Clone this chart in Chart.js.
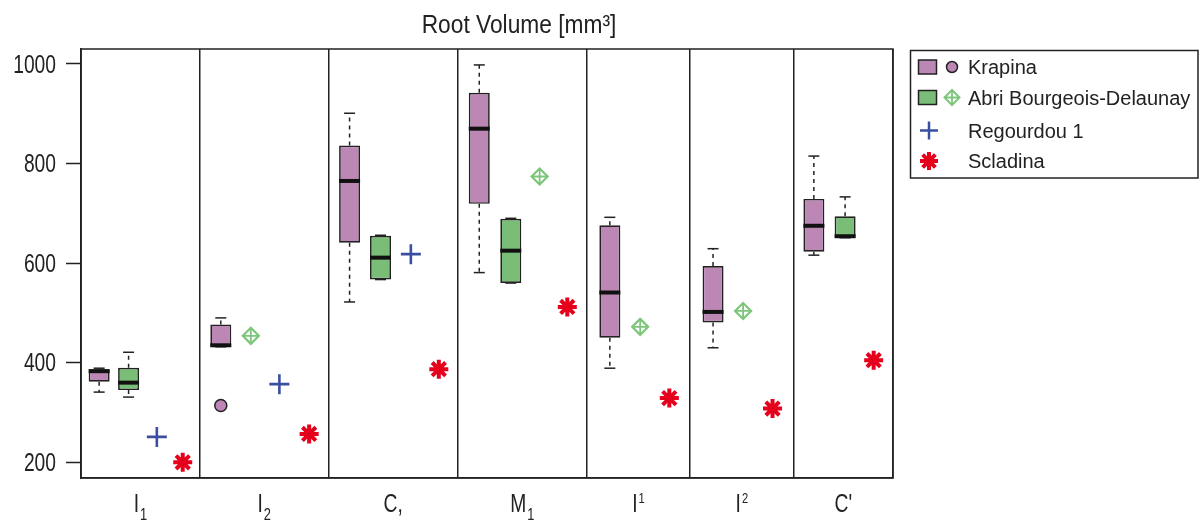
<!DOCTYPE html>
<html><head><meta charset="utf-8">
<script src="https://cdn.jsdelivr.net/npm/chart.js@4.4.1/dist/chart.umd.min.js"></script>
<style>html,body{margin:0;padding:0;background:#fff}canvas{display:block}</style>
</head><body>
<canvas id="c" width="1200" height="521"></canvas>
<script>
// ---------- data ----------
const categories = ['I\u2081', 'I\u2082', 'C,', 'M\u2081', 'I\u00B9', 'I\u00B2', "C'"];
const yTicks = [200, 400, 600, 800, 1000];
// panel boundaries on the x axis (slot units)
const panelEdges = [0, 4.00, 8.32, 12.67, 17.01, 20.48, 23.96, 27.30];

// Krapina (box plots)
const krapinaX   = [0.61, 4.70, 9.03, 13.39, 17.78, 21.25, 24.64];
const krapinaMin = [341, 432, 522, 581, 389, 430, 616];
const krapinaQ1  = [362, 432, 641, 719, 450, 481, 623];
const krapinaMed = [383, 435, 765, 870, 541, 502, 675];
const krapinaQ3  = [387, 477, 836, 942, 676, 594, 729];
const krapinaMax = [389, 490, 901, 998, 692, 629, 815];
const krapinaOutlier = [null, 314, null, null, null, null, null];

// Abri Bourgeois-Delaunay (box plots + single values)
const abdBoxX = [1.60, null, 10.07, 14.45, null, null, 25.69];
const abdMin  = [331, null, 567, 560, null, null, 651];
const abdQ1   = [345, null, 567, 560, null, null, 651];
const abdMed  = [360, null, 611, 625, null, null, 654];
const abdQ3   = [390, null, 655, 689, null, null, 694];
const abdMax  = [421, null, 656, 690, null, null, 733];
const abdPointX = [null, 5.71, null, 15.42, 18.80, 22.26, null];
const abdPoint  = [null, 454, null, 774, 472, 504, null];

// Regourdou 1
const regourdouX = [2.55, 6.67, 11.09, null, null, null, null];
const regourdou  = [251, 357, 618, null, null, null, null];

// Scladina
const scladinaX = [3.42, 7.67, 12.03, 16.35, 19.78, 23.25, 26.65];
const scladina  = [200, 257, 387, 512, 329, 308, 405];

// ---------- styles ----------
const PURPLE = '#BC86B5', GREEN = '#79BD77', DIAMOND = '#7DC57B', BLUE = '#3A4F9F', RED = '#E5001C', INK = '#222';
const FAMILY = '"Liberation Sans", Arial, Helvetica, sans-serif';

// ---------- build datasets ----------
function pts(xs, ys) {
  const out = [];
  xs.forEach((x, i) => { if (x != null && ys[i] != null) out.push({ x: x, y: ys[i] }); });
  return out;
}
function boxes(xs, q1, q3) {
  const out = [];
  xs.forEach((x, i) => { if (x != null && q1[i] != null) out.push({ x: x, y: [q1[i], q3[i]] }); });
  return out;
}
function whiskers(xs, mn, q1, q3, mx) {
  const out = [];
  xs.forEach((x, i) => {
    if (x == null || q1[i] == null) return;
    out.push({ x: x, y: q3[i] }, { x: x, y: mx[i] }, { x: x, y: null });
    out.push({ x: x, y: q1[i] }, { x: x, y: mn[i] }, { x: x, y: null });
  });
  return out;
}
function caps(xs, mn, mx) {
  return pts(xs, mn).concat(pts(xs, mx));
}

const boxCommon = { type: 'bar', borderColor: INK, borderWidth: 1.7, borderSkipped: false, grouped: false, maxBarThickness: 21, barPercentage: 0.95, order: 5 };
const whiskerCommon = { type: 'line', borderColor: INK, borderWidth: 1.5, borderDash: [4, 4], pointRadius: 0, fill: false, spanGaps: false, tension: 0, order: 7 };
const capCommon = { type: 'scatter', pointStyle: 'line', pointRadius: 5.5, pointBorderWidth: 1.5, borderColor: INK, pointBorderColor: INK, order: 6 };
const medCommon = { type: 'scatter', pointStyle: 'line', pointRadius: 10.5, pointBorderWidth: 4, borderColor: '#111', pointBorderColor: '#111', order: 2 };

const datasets = [
  Object.assign({ label: 'Krapina whiskers', data: whiskers(krapinaX, krapinaMin, krapinaQ1, krapinaQ3, krapinaMax) }, whiskerCommon),
  Object.assign({ label: 'ABD whiskers', data: whiskers(abdBoxX, abdMin, abdQ1, abdQ3, abdMax) }, whiskerCommon),
  Object.assign({ label: 'Krapina caps', data: caps(krapinaX, krapinaMin, krapinaMax) }, capCommon),
  Object.assign({ label: 'ABD caps', data: caps(abdBoxX, abdMin, abdMax) }, capCommon),
  Object.assign({ label: 'Krapina', data: boxes(krapinaX, krapinaQ1, krapinaQ3), backgroundColor: PURPLE }, boxCommon),
  Object.assign({ label: 'Abri Bourgeois-Delaunay', data: boxes(abdBoxX, abdQ1, abdQ3), backgroundColor: GREEN }, boxCommon),
  Object.assign({ label: 'Krapina median', data: pts(krapinaX, krapinaMed) }, medCommon),
  Object.assign({ label: 'ABD median', data: pts(abdBoxX, abdMed) }, medCommon),
  { type: 'scatter', label: 'Krapina outlier', data: pts(krapinaX, krapinaOutlier), pointStyle: 'circle', pointRadius: 6,
    pointBackgroundColor: PURPLE, backgroundColor: PURPLE, pointBorderColor: INK, borderColor: INK, pointBorderWidth: 1.5, order: 1 },
  { type: 'scatter', label: 'ABD single', data: pts(abdPointX, abdPoint), pointStyle: 'rectRot', pointRadius: 8,
    pointBackgroundColor: 'rgba(0,0,0,0)', backgroundColor: 'rgba(0,0,0,0)', pointBorderColor: DIAMOND, borderColor: DIAMOND, pointBorderWidth: 2.2, order: 1 },
  { type: 'scatter', label: 'ABD single cross', data: pts(abdPointX, abdPoint), pointStyle: 'cross', pointRadius: 8,
    pointBorderColor: DIAMOND, borderColor: DIAMOND, pointBorderWidth: 1.8, order: 1 },
  { type: 'scatter', label: 'Regourdou 1', data: pts(regourdouX, regourdou), pointStyle: 'cross', pointRadius: 10,
    pointBorderColor: BLUE, borderColor: BLUE, pointBorderWidth: 2.6, order: 1 },
  { type: 'scatter', label: 'Scladina', data: pts(scladinaX, scladina), pointStyle: 'star', pointRadius: 9.5,
    pointBorderColor: RED, borderColor: RED, pointBorderWidth: 4, order: 1 }
];

// ---------- axis helpers ----------
const panelCenters = panelEdges.slice(0, -1).map((e, i) => (e + panelEdges[i + 1]) / 2);
const xTickValues = panelEdges.concat(panelCenters).sort((a, b) => a - b);
const edgeSet = new Set(panelEdges);

// narrow-looking text: draw with a horizontal squeeze
function drawText(ctx, text, x, y, size, sx, align) {
  ctx.save();
  ctx.font = size + 'px ' + FAMILY;
  const w = ctx.measureText(text).width * sx;
  const left = align === 'right' ? x - w : (align === 'center' ? x - w / 2 : x);
  ctx.translate(left, y);
  ctx.scale(sx, 1);
  ctx.textAlign = 'left';
  ctx.textBaseline = 'alphabetic';
  ctx.fillText(text, 0, 0);
  ctx.restore();
  return w;
}
function measure(ctx, text, size, sx) {
  ctx.save(); ctx.font = size + 'px ' + FAMILY;
  const w = ctx.measureText(text).width * sx; ctx.restore(); return w;
}
const SUBS = { '\u2080': '0', '\u2081': '1', '\u2082': '2', '\u2083': '3' };
const SUPS = { '\u00B9': '1', '\u00B2': '2', '\u00B3': '3' };

// ---------- plugins ----------
const framePlugin = {
  id: 'frame',
  afterDatasetsDraw(chart) {
    const { ctx, chartArea: a } = chart;
    ctx.save();
    ctx.strokeStyle = INK; ctx.lineWidth = 1.5;
    ctx.strokeRect(a.left, a.top, a.right - a.left, a.bottom - a.top);
    ctx.restore();
  }
};

const axisLabelPlugin = {
  id: 'axisLabels',
  afterDraw(chart) {
    const ctx = chart.ctx;
    const xs = chart.scales.x, ys = chart.scales.y;
    ctx.save();
    ctx.fillStyle = INK;
    yTicks.forEach(v => {
      drawText(ctx, String(v), 56, ys.getPixelForValue(v) + 8.6, 25, 0.77, 'right');
    });
    categories.forEach((lab, i) => {
      const cx = xs.getPixelForValue(panelCenters[i]);
      const last = lab.slice(-1);
      let base = lab, small = '', kind = '';
      if (SUBS[last]) { base = lab.slice(0, -1); small = SUBS[last]; kind = 'sub'; }
      else if (SUPS[last]) { base = lab.slice(0, -1); small = SUPS[last]; kind = 'sup'; }
      const bw = measure(ctx, base, 25, 0.77);
      const smallSize = kind === 'sub' ? 16 : 14;
      const sw = small ? measure(ctx, small, smallSize, 0.8) + 1 : 0;
      const left = cx - (bw + sw) / 2;
      drawText(ctx, base, left, 512, 25, 0.77, 'left');
      if (kind === 'sub') drawText(ctx, small, left + bw + 1, 519.5, smallSize, 0.8, 'left');
      if (kind === 'sup') drawText(ctx, small, left + bw + 1, 503, smallSize, 0.8, 'left');
    });
    ctx.restore();
  }
};

const titlePlugin = {
  id: 'customTitle',
  afterDraw(chart) {
    const ctx = chart.ctx;
    ctx.save();
    ctx.fillStyle = INK;
    drawText(ctx, 'Root Volume [mm\u00B3]', 519, 33, 25, 0.91, 'center');
    ctx.restore();
  }
};

const legendItems = [
  { text: 'Krapina', kind: 'box+circle', fill: PURPLE },
  { text: 'Abri Bourgeois-Delaunay', kind: 'box+diamond', fill: GREEN },
  { text: 'Regourdou 1', kind: 'plus' },
  { text: 'Scladina', kind: 'star' }
];
const legendPlugin = {
  id: 'customLegend',
  afterDraw(chart) {
    const ctx = chart.ctx;
    const L = 910.5, T = 50.5, W = 287.5, H = 127.5;
    const rows = [67, 97.5, 130.5, 161];
    ctx.save();
    ctx.strokeStyle = INK; ctx.lineWidth = 1.5;
    ctx.strokeRect(L, T, W, H);
    legendItems.forEach((it, i) => {
      const cy = rows[i];
      ctx.lineCap = 'butt';
      if (it.kind.startsWith('box')) {
        ctx.fillStyle = it.fill; ctx.strokeStyle = INK; ctx.lineWidth = 1.5;
        ctx.fillRect(918.5, cy - 7, 18, 14); ctx.strokeRect(918.5, cy - 7, 18, 14);
        if (it.kind === 'box+circle') {
          ctx.beginPath(); ctx.arc(952, cy, 5.5, 0, Math.PI * 2);
          ctx.fillStyle = PURPLE; ctx.fill(); ctx.stroke();
        } else {
          const r = 7.5, x = 952;
          ctx.strokeStyle = DIAMOND; ctx.lineWidth = 2;
          ctx.beginPath(); ctx.moveTo(x - r, cy); ctx.lineTo(x, cy - r); ctx.lineTo(x + r, cy); ctx.lineTo(x, cy + r); ctx.closePath(); ctx.stroke();
          ctx.lineWidth = 1.8;
          ctx.beginPath(); ctx.moveTo(x - r, cy); ctx.lineTo(x + r, cy); ctx.moveTo(x, cy - r); ctx.lineTo(x, cy + r); ctx.stroke();
        }
      } else if (it.kind === 'plus') {
        const r = 9, x = 929;
        ctx.strokeStyle = BLUE; ctx.lineWidth = 2.5;
        ctx.beginPath(); ctx.moveTo(x - r, cy); ctx.lineTo(x + r, cy); ctx.moveTo(x, cy - r); ctx.lineTo(x, cy + r); ctx.stroke();
      } else {
        const r = 9, x = 929;
        ctx.strokeStyle = RED; ctx.lineWidth = 4;
        ctx.beginPath();
        for (let k = 0; k < 4; k++) {
          const a = k * Math.PI / 4;
          ctx.moveTo(x - r * Math.cos(a), cy - r * Math.sin(a));
          ctx.lineTo(x + r * Math.cos(a), cy + r * Math.sin(a));
        }
        ctx.stroke();
      }
      ctx.fillStyle = INK;
      ctx.font = '20px ' + FAMILY;
      ctx.textAlign = 'left'; ctx.textBaseline = 'alphabetic';
      ctx.fillText(it.text, 968, cy + 7.2);
    });
    ctx.restore();
  }
};

// ---------- chart ----------
new Chart(document.getElementById('c'), {
  type: 'scatter',
  data: { datasets: datasets },
  options: {
    responsive: false,
    animation: false,
    events: [],
    layout: { padding: { left: 0, top: 49, right: 307, bottom: 0 } },
    plugins: { legend: { display: false }, title: { display: false }, tooltip: { enabled: false } },
    scales: {
      x: {
        type: 'linear',
        min: panelEdges[0],
        max: panelEdges[panelEdges.length - 1],
        offset: false,
        afterBuildTicks: (ax) => { ax.ticks = xTickValues.map(v => ({ value: v })); },
        afterFit: (ax) => { ax.height = 43; },
        grid: {
          offset: false,
          drawTicks: false,
          color: (c) => (c.tick && edgeSet.has(c.tick.value)) ? INK : 'rgba(0,0,0,0)',
          lineWidth: 1.5
        },
        border: { display: true, color: INK, width: 1.5 },
        ticks: { display: false, autoSkip: false, maxRotation: 0, minRotation: 0 }
      },
      y: {
        type: 'linear',
        min: 168.5,
        max: 1030,
        afterBuildTicks: (ax) => { ax.ticks = yTicks.map(v => ({ value: v })); },
        afterFit: (ax) => { ax.width = 81; },
        grid: { offset: false, drawOnChartArea: false, drawTicks: true, tickLength: 15, tickColor: INK, tickWidth: 1.5 },
        border: { display: true, color: INK, width: 1.5 },
        ticks: { display: false }
      }
    }
  },
  plugins: [framePlugin, axisLabelPlugin, titlePlugin, legendPlugin]
});
</script>
</body></html>
